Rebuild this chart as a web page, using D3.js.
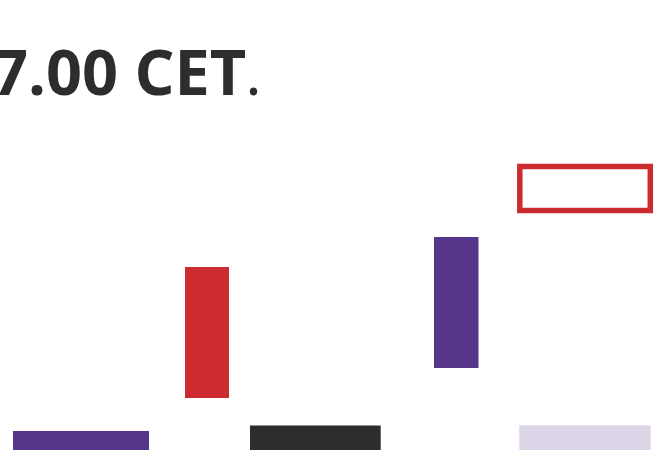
<!DOCTYPE html>
<html>
<head>
<meta charset="utf-8">
<script src="https://cdn.jsdelivr.net/npm/d3@7"></script>
<style>
  html, body { margin: 0; padding: 0; background: #ffffff; overflow: hidden; }
  svg { display: block; }
</style>
</head>
<body>
<svg id="chart" width="654" height="450"></svg>
<script>
// ---- data (abstract units; positions derived via scales) ----
const titleBold = "7.00 CET";
const titleTail = ".";
const categories = ["blockA", "barB", "blockC", "barD", "blockE", "frameF"];
const xFrom  = [13, 185, 250, 434, 519.3, 519.8];
const xTo    = [149, 229, 380.7, 478.5, 650.7, 650.3];
const yLow   = [-10, 52, -10, 82, -10, 239.5];
const yHigh  = [19, 183, 24.5, 213, 24.7, 283.5];
const fills  = ["#55368a", "#cc2c30", "#2d2d2d", "#55368a", "#ddd6e8", "none"];
const strokes = ["none", "none", "none", "none", "none", "#cc2c30"];

const W = 654, H = 450;
const svg = d3.select("#chart");

const x = d3.scaleLinear().domain([0, W]).range([0, W]);
const y = d3.scaleLinear().domain([0, H]).range([H, 0]);

const data = categories.map((c, i) => ({
  c, x0: xFrom[i], x1: xTo[i], lo: yLow[i], hi: yHigh[i], fill: fills[i], stroke: strokes[i]
}));

svg.selectAll("rect.mark")
  .data(data)
  .join("rect")
  .attr("class", "mark")
  .attr("x", d => x(d.x0))
  .attr("width", d => x(d.x1) - x(d.x0))
  .attr("y", d => y(d.hi))
  .attr("height", d => y(d.lo) - y(d.hi))
  .attr("fill", d => d.fill)
  .attr("stroke", d => d.stroke)
  .attr("stroke-width", d => d.stroke === "none" ? 0 : 5.5);

const t = svg.append("text")
  .attr("x", -8)
  .attr("y", 94.5)
  .attr("fill", "#2d2d2d")
  .style("font-family", "'Open Sans', 'Noto Sans', sans-serif")
  .style("font-size", "63px");
t.append("tspan").attr("font-weight", 700).text(titleBold);
t.append("tspan").attr("font-weight", 400).attr("dx", -1).text(titleTail);
</script>
</body>
</html>
